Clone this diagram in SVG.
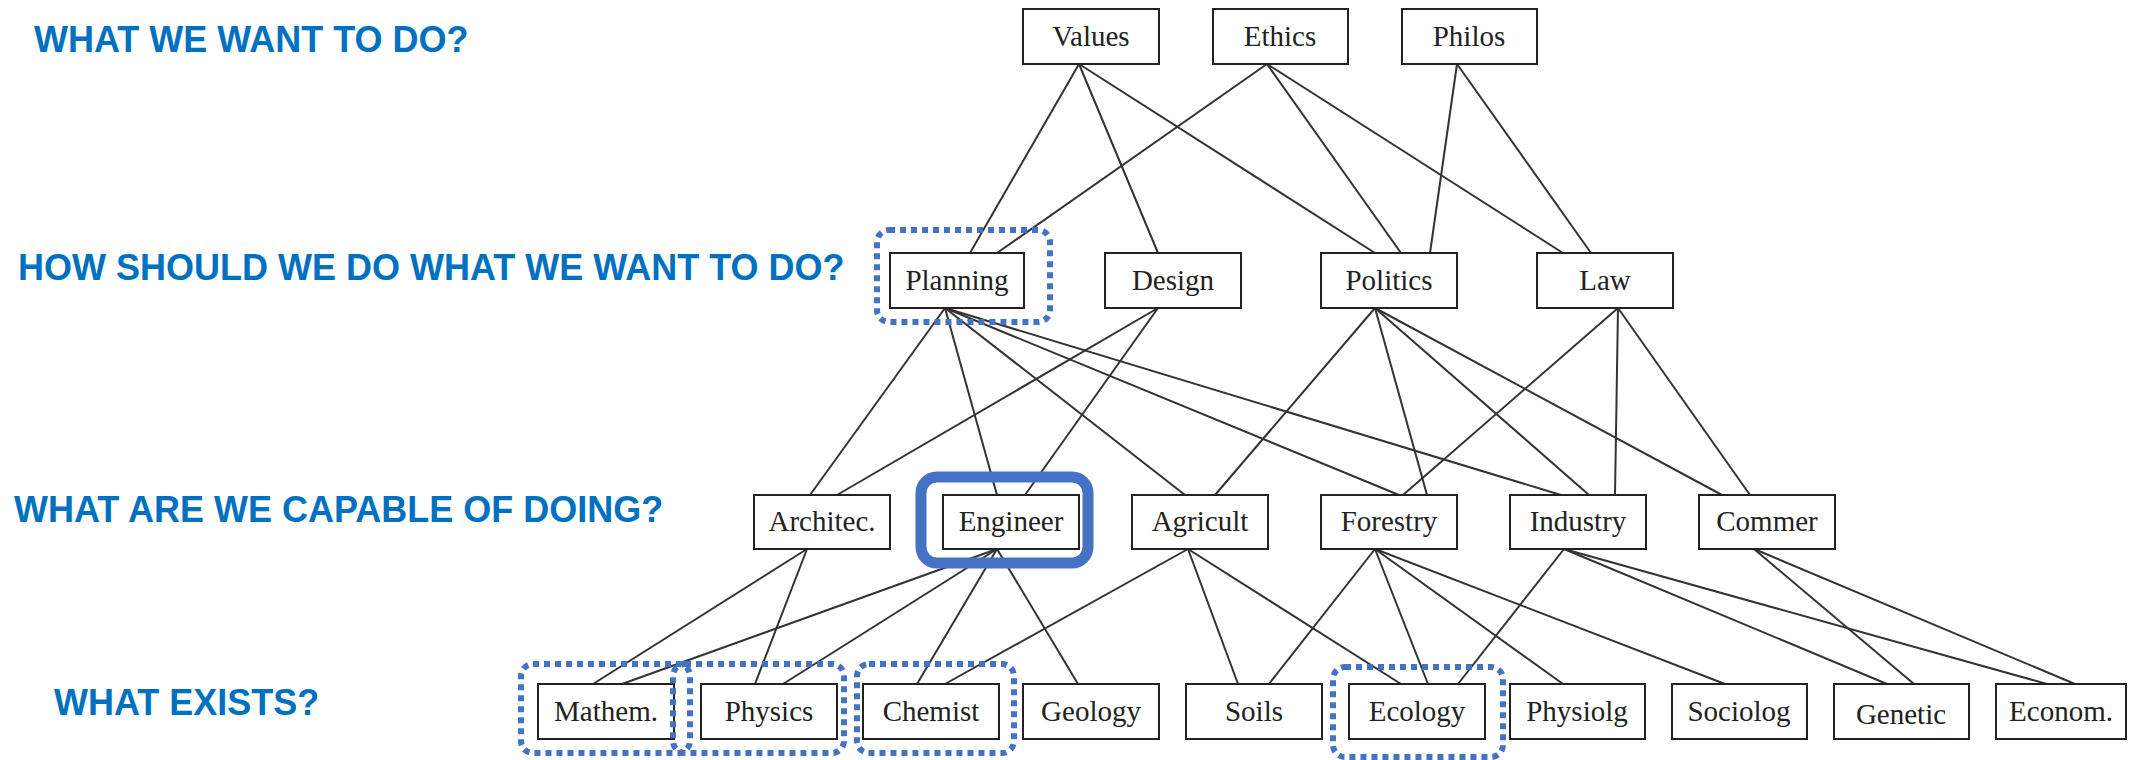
<svg xmlns="http://www.w3.org/2000/svg" width="2130" height="760" viewBox="0 0 2130 760">
<style>
.q{font-family:"Liberation Sans",Arial,sans-serif;font-weight:bold;font-size:36px;fill:#0070C0}
.b{fill:#fff;stroke:#222;stroke-width:2}
.t{font-family:"Liberation Serif","Times New Roman",serif;font-size:29px;fill:#222;text-anchor:middle}
.c line{stroke:#333;stroke-width:2}
.d{fill:none;stroke:#4472C4;stroke-width:6;stroke-dasharray:6 5}
.s{fill:none;stroke:#4472C4;stroke-width:11}
</style>
<rect width="2130" height="760" fill="#fff"/>
<g id="labels">
<text class="q" x="34" y="52">WHAT WE WANT TO DO?</text>
<text class="q" x="18" y="280">HOW SHOULD WE DO WHAT WE WANT TO DO?</text>
<text class="q" x="14" y="522">WHAT ARE WE CAPABLE OF DOING?</text>
<text class="q" x="54" y="715">WHAT EXISTS?</text>
</g>
<g id="connectors" class="c">
<line x1="1079" y1="64" x2="970" y2="253"/>
<line x1="1079" y1="64" x2="1158" y2="253"/>
<line x1="1079" y1="64" x2="1375" y2="253"/>
<line x1="1267" y1="64" x2="997" y2="253"/>
<line x1="1267" y1="64" x2="1401" y2="253"/>
<line x1="1267" y1="64" x2="1563" y2="253"/>
<line x1="1457" y1="64" x2="1430" y2="253"/>
<line x1="1457" y1="64" x2="1591" y2="253"/>
<line x1="945" y1="308" x2="810" y2="495"/>
<line x1="945" y1="308" x2="997" y2="495"/>
<line x1="945" y1="308" x2="1185" y2="495"/>
<line x1="945" y1="308" x2="1399" y2="495"/>
<line x1="945" y1="308" x2="1561" y2="495"/>
<line x1="1158" y1="308" x2="837" y2="495"/>
<line x1="1158" y1="308" x2="1025" y2="495"/>
<line x1="1375" y1="308" x2="1215" y2="495"/>
<line x1="1375" y1="308" x2="1427" y2="495"/>
<line x1="1375" y1="308" x2="1589" y2="495"/>
<line x1="1375" y1="308" x2="1722" y2="495"/>
<line x1="1618" y1="308" x2="1403" y2="495"/>
<line x1="1618" y1="308" x2="1615" y2="495"/>
<line x1="1618" y1="308" x2="1750" y2="495"/>
<line x1="807" y1="549" x2="593" y2="684"/>
<line x1="807" y1="549" x2="755" y2="684"/>
<line x1="997" y1="549" x2="622" y2="684"/>
<line x1="997" y1="549" x2="783" y2="684"/>
<line x1="997" y1="549" x2="917" y2="684"/>
<line x1="997" y1="549" x2="1078" y2="684"/>
<line x1="1188" y1="549" x2="945" y2="684"/>
<line x1="1188" y1="549" x2="1238" y2="684"/>
<line x1="1188" y1="549" x2="1401" y2="684"/>
<line x1="1375" y1="549" x2="1269" y2="684"/>
<line x1="1375" y1="549" x2="1428" y2="684"/>
<line x1="1375" y1="549" x2="1563" y2="684"/>
<line x1="1375" y1="549" x2="1725" y2="684"/>
<line x1="1564" y1="549" x2="1458" y2="684"/>
<line x1="1564" y1="549" x2="1887" y2="684"/>
<line x1="1564" y1="549" x2="2047" y2="684"/>
<line x1="1754" y1="549" x2="1914" y2="684"/>
<line x1="1754" y1="549" x2="2075" y2="684"/>
</g>
<g id="values"><rect class="b" x="1023" y="9" width="136" height="55"/><text class="t" x="1091" y="46">Values</text></g>
<g id="ethics"><rect class="b" x="1213" y="9" width="135" height="55"/><text class="t" x="1280" y="46">Ethics</text></g>
<g id="philos"><rect class="b" x="1402" y="9" width="135" height="55"/><text class="t" x="1469" y="46">Philos</text></g>
<g id="planning"><rect class="b" x="890" y="253" width="134" height="55"/><text class="t" x="957" y="290">Planning</text></g>
<g id="design"><rect class="b" x="1105" y="253" width="136" height="55"/><text class="t" x="1173" y="290">Design</text></g>
<g id="politics"><rect class="b" x="1321" y="253" width="136" height="55"/><text class="t" x="1389" y="290">Politics</text></g>
<g id="law"><rect class="b" x="1537" y="253" width="136" height="55"/><text class="t" x="1605" y="290">Law</text></g>
<g id="architec"><rect class="b" x="754" y="495" width="136" height="54"/><text class="t" x="822" y="531">Architec.</text></g>
<g id="engineer"><rect class="b" x="943" y="495" width="136" height="54"/><text class="t" x="1011" y="531">Engineer</text></g>
<g id="agricult"><rect class="b" x="1132" y="495" width="136" height="54"/><text class="t" x="1200" y="531">Agricult</text></g>
<g id="forestry"><rect class="b" x="1321" y="495" width="136" height="54"/><text class="t" x="1389" y="531">Forestry</text></g>
<g id="industry"><rect class="b" x="1510" y="495" width="136" height="54"/><text class="t" x="1578" y="531">Industry</text></g>
<g id="commer"><rect class="b" x="1699" y="495" width="136" height="54"/><text class="t" x="1767" y="531">Commer</text></g>
<g id="mathem"><rect class="b" x="538" y="684" width="136" height="55"/><text class="t" x="606" y="721">Mathem.</text></g>
<g id="physics"><rect class="b" x="701" y="684" width="136" height="55"/><text class="t" x="769" y="721">Physics</text></g>
<g id="chemist"><rect class="b" x="863" y="684" width="136" height="55"/><text class="t" x="931" y="721">Chemist</text></g>
<g id="geology"><rect class="b" x="1023" y="684" width="136" height="55"/><text class="t" x="1091" y="721">Geology</text></g>
<g id="soils"><rect class="b" x="1186" y="684" width="136" height="55"/><text class="t" x="1254" y="721">Soils</text></g>
<g id="ecology"><rect class="b" x="1349" y="684" width="136" height="55"/><text class="t" x="1417" y="721">Ecology</text></g>
<g id="physiolg"><rect class="b" x="1510" y="684" width="135" height="55"/><text class="t" x="1577" y="721">Physiolg</text></g>
<g id="sociolog"><rect class="b" x="1672" y="684" width="135" height="55"/><text class="t" x="1739" y="721">Sociolog</text></g>
<g id="genetic"><rect class="b" x="1834" y="684" width="135" height="55"/><text class="t" x="1901" y="724">Genetic</text></g>
<g id="econom"><rect class="b" x="1996" y="684" width="130" height="55"/><text class="t" x="2061" y="721">Econom.</text></g>
<g id="highlights">
<rect class="d" x="877" y="230" width="173" height="92" rx="12"/>
<rect class="s" x="921" y="477" width="167" height="86" rx="16"/>
<rect class="d" x="521" y="664" width="169" height="89" rx="12"/>
<rect class="d" x="673" y="664" width="171" height="89" rx="12"/>
<rect class="d" x="857" y="664" width="157" height="89" rx="12"/>
<rect class="d" x="1333" y="667" width="170" height="90" rx="12"/>
</g>
</svg>
